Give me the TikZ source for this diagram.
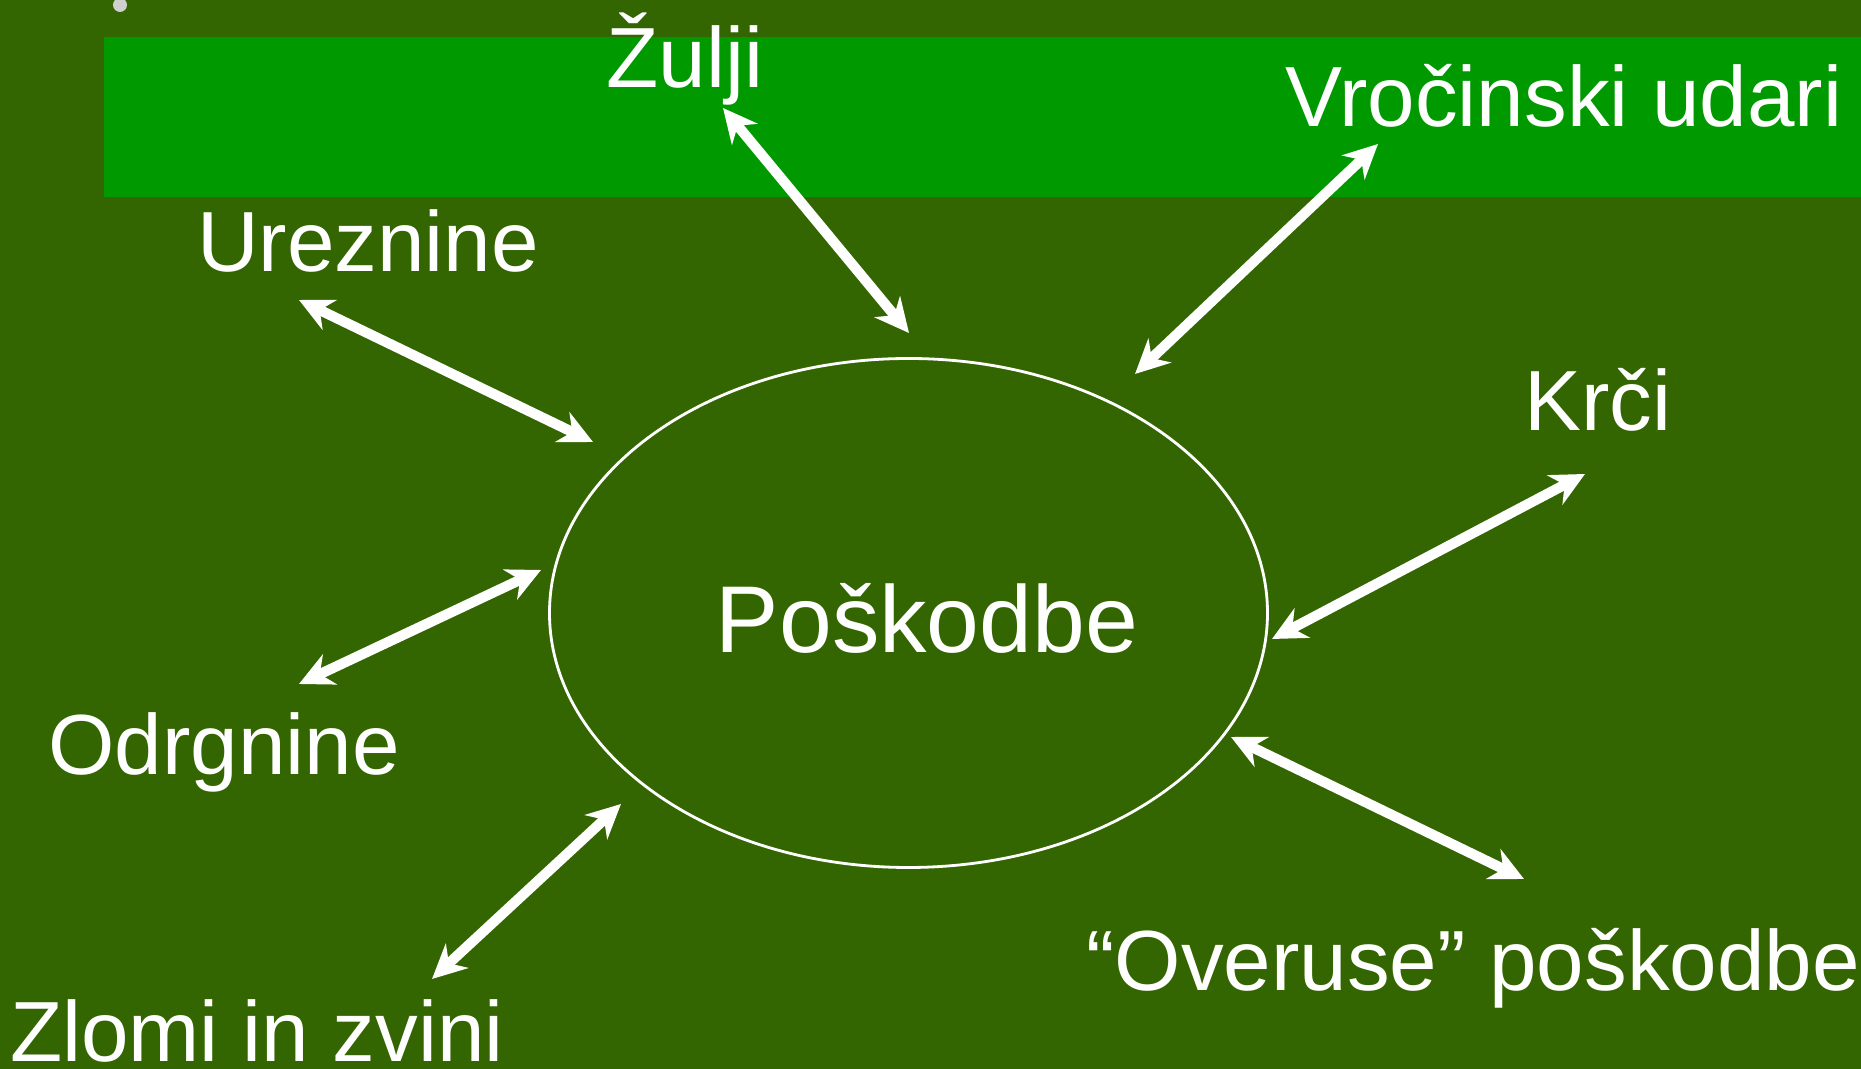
\documentclass[tikz,border=0pt]{standalone}
\usepackage{fontspec}
\setmainfont{Liberation Sans}
\usepackage{xcolor}
\usepackage{tikz}
\usetikzlibrary{arrows.meta}
\usetikzlibrary{shapes.geometric}

\definecolor{bggreen}{HTML}{336600}
\definecolor{bandgreen}{HTML}{009900}
\definecolor{dotgray}{HTML}{D0D0D0}

\begin{document}
\begin{tikzpicture}[x=1cm, y=-1cm,
        lbl/.style={text=white, font=\fontsize{24.3}{28}\selectfont, inner sep=0pt, anchor=base},
        arr/.style={white, line width=2.9pt,
            {Stealth[length=3.4mm, width=3.3mm, inset=1.1mm]}-{Stealth[length=3.4mm, width=3.3mm, inset=1.1mm]}}]
        % background, band and bullet
        \path[use as bounding box, fill=bggreen] (0, 0) rectangle (18.61, 10.69);
        \fill[bandgreen] (1.04, 0.37) rectangle (18.61, 1.97);
        \fill[dotgray] (1.20, 0.05) circle (0.07);

        % centre
        \node[draw=white, line width=0.8pt, ellipse, minimum width=7.18cm, minimum height=5.09cm, inner sep=0pt] (pos) at (9.085, 6.13) {};
        \node[lbl, font=\fontsize{27}{32}\selectfont] (poskodbe) at (9.27, 6.53) {Poškodbe};

        % labels
        \node[lbl] (zulji) at (6.85, 0.88) {Žulji};
        \node[lbl] (vroc) at (15.64, 1.27) {Vročinski udari};
        \node[lbl] (urez) at (3.68, 2.72) {Ureznine};
        \node[lbl] (krci) at (15.98, 4.31) {Krči};
        \node[lbl] (odrg) at (2.24, 7.75) {Odrgnine};
        \node[lbl] (zlom) at (2.57, 10.62) {Zlomi in zvini};
        \node[lbl] (over) at (14.73, 9.91) {“Overuse” poškodbe};

        % arrow ends
        \coordinate (zulji-a) at (7.23, 1.08);
        \coordinate (zulji-b) at (9.09, 3.33);
        \coordinate (vroc-a) at (13.78, 1.44);
        \coordinate (vroc-b) at (11.35, 3.74);
        \coordinate (urez-a) at (2.99, 3.00);
        \coordinate (urez-b) at (5.93, 4.42);
        \coordinate (krci-a) at (15.85, 4.74);
        \coordinate (krci-b) at (12.72, 6.39);
        \coordinate (odrg-a) at (5.41, 5.70);
        \coordinate (odrg-b) at (2.99, 6.84);
        \coordinate (zlom-a) at (6.21, 8.04);
        \coordinate (zlom-b) at (4.32, 9.79);
        \coordinate (over-a) at (12.31, 7.37);
        \coordinate (over-b) at (15.24, 8.79);

        \draw[arr] (zulji-a) -- (zulji-b);
        \draw[arr] (vroc-a) -- (vroc-b);
        \draw[arr] (urez-a) -- (urez-b);
        \draw[arr] (krci-a) -- (krci-b);
        \draw[arr] (odrg-a) -- (odrg-b);
        \draw[arr] (zlom-a) -- (zlom-b);
        \draw[arr] (over-a) -- (over-b);
    \end{tikzpicture}
\end{document}
